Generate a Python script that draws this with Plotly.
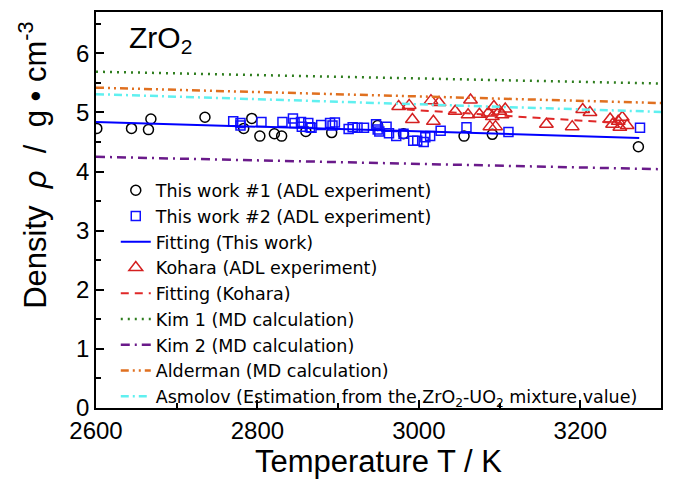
import plotly.graph_objects as go

# This work #1 (circles)
t1_T = [2601, 2644, 2665, 2668, 2735, 2783, 2793, 2803, 2821, 2830, 2860, 2892, 2949, 2981, 3056, 3091, 3272]
t1_rho = [4.73, 4.73, 4.71, 4.89, 4.92, 4.73, 4.90, 4.60, 4.64, 4.60, 4.68, 4.66, 4.78, 4.64, 4.60, 4.63, 4.42]

# This work #2 (squares)
t2_T = [2770, 2779, 2779, 2805, 2831, 2844, 2846, 2854, 2855, 2863, 2865, 2867, 2879, 2890, 2893, 2896,
        2913, 2918, 2924, 2932, 2947, 2949, 2951, 2960, 2963, 2972, 2981, 2993, 2998, 3006, 3008, 3014,
        3027, 3059, 3111, 3274]
t2_rho = [4.85, 4.82, 4.78, 4.84, 4.84, 4.90, 4.82, 4.84, 4.76, 4.82, 4.75, 4.74, 4.79, 4.82, 4.78, 4.83,
          4.72, 4.75, 4.74, 4.74, 4.80, 4.71, 4.68, 4.76, 4.65, 4.60, 4.64, 4.52, 4.52, 4.50, 4.58, 4.60,
          4.69, 4.75, 4.67, 4.74]

# Fitting (This work)
fit1_T = [2600, 3273]
fit1_rho = [4.84, 4.57]

# Kohara (triangles)
koh_T = [2975, 2988, 2992, 3015, 3025, 3018, 3045, 3061, 3064, 3075, 3086, 3091, 3093, 3100, 3107, 3088,
         3095, 3103, 3158, 3190, 3203, 3212, 3237, 3240, 3249, 3252, 3258, 3247]
koh_rho = [5.10, 5.12, 4.88, 5.20, 5.17, 4.85, 5.02, 4.96, 5.21, 4.97, 4.99, 4.93, 5.10, 5.02, 5.06, 4.76,
           4.76, 4.96, 4.80, 4.76, 5.05, 5.00, 4.89, 4.80, 4.75, 4.92, 4.78, 4.85]

# Fitting (Kohara)
fit2_T = [2985, 3250]
fit2_rho = [5.05, 4.82]

# MD / estimation lines
line_T = [2600, 3300]
kim1_rho = [5.69, 5.49]
kim2_rho = [4.25, 4.04]
alderman_rho = [5.42, 5.16]
asmolov_rho = [5.31, 5.01]

FONT = "Arial, Liberation Sans, sans-serif"
LEG_FONT = "DejaVu Sans, sans-serif"
NB = "\u00a0"

fig = go.Figure()
fig.add_trace(go.Scatter(x=t1_T, y=t1_rho, mode="markers", name="This work #1 (ADL experiment)",
                         marker=dict(symbol="circle-open", size=10, color="black", line=dict(width=1.5))))
fig.add_trace(go.Scatter(x=t2_T, y=t2_rho, mode="markers", name="This work #2 (ADL experiment)",
                         marker=dict(symbol="square-open", size=9, color="#1010ff", line=dict(width=1.5))))
fig.add_trace(go.Scatter(x=fit1_T, y=fit1_rho, mode="lines", name="Fitting (This work)",
                         line=dict(color="#0000ff", width=2)))
fig.add_trace(go.Scatter(x=koh_T, y=koh_rho, mode="markers", name="Kohara (ADL experiment)",
                         marker=dict(symbol="triangle-up-open", size=12, color="#d42020", line=dict(width=1.5))))
fig.add_trace(go.Scatter(x=fit2_T, y=fit2_rho, mode="lines", name="Fitting (Kohara)",
                         line=dict(color="#e02828", width=2, dash="8px,6px")))
fig.add_trace(go.Scatter(x=line_T, y=kim1_rho, mode="lines", name="Kim 1 (MD calculation)",
                         line=dict(color="#2e7d1e", width=2.5, dash="2px,5px")))
fig.add_trace(go.Scatter(x=line_T, y=kim2_rho, mode="lines", name="Kim 2 (MD calculation)",
                         line=dict(color="#6a1a8a", width=2.5, dash="9px,5px,2px,5px")))
fig.add_trace(go.Scatter(x=line_T, y=alderman_rho, mode="lines", name="Alderman (MD calculation)",
                         line=dict(color="#e07020", width=2.5, dash="8px,4px,2px,4px,2px,4px")))
fig.add_trace(go.Scatter(x=line_T, y=asmolov_rho, mode="lines",
                         name="Asmolov (Estimation from the ZrO<sub>2</sub>-UO<sub>2</sub> mixture value)",
                         line=dict(color="#60f0f0", width=2.5, dash="8px,4px,2px,4px")))

fig.add_annotation(x=0.055, y=0.93, xref="paper", yref="paper", xanchor="left", yanchor="middle",
                   text="ZrO<sub>2</sub>", showarrow=False, font=dict(size=30, color="black", family=FONT))

ytitle = ("Density" + NB * 2 + "<i>ρ</i>" + NB * 2 + "/" + NB * 2 + "g" + NB + "•" + NB + "cm<sup>-3</sup>")
fig.add_annotation(x=-0.111, y=0.245, xref="paper", yref="paper", xanchor="center", yanchor="bottom",
                   text=ytitle, textangle=-90, showarrow=False, font=dict(size=31, color="black", family=FONT))

fig.update_layout(
    width=673, height=485,
    margin=dict(l=96, r=10, t=10, b=77),
    plot_bgcolor="white", paper_bgcolor="white",
    font=dict(family=FONT, color="black"),
    showlegend=True,
    legend=dict(x=0.035, y=0.595, xanchor="left", yanchor="top", bgcolor="rgba(0,0,0,0)",
                font=dict(size=17.5, family=LEG_FONT), tracegroupgap=0, itemwidth=30),
    xaxis=dict(range=[2600, 3300], dtick=200, tick0=2600, showgrid=False, zeroline=False,
               showline=True, linecolor="black", linewidth=1.5, mirror=True,
               ticks="inside", ticklen=8, tickwidth=1.5, tickcolor="black",
               minor=dict(dtick=100, ticks="inside", ticklen=5, tickwidth=1.5, tickcolor="black"),
               tickfont=dict(size=24), title=dict(text="Temperature T / K", font=dict(size=31), standoff=8)),
    yaxis=dict(range=[0, 6.7], dtick=1, tick0=0, showgrid=False, zeroline=False,
               showline=True, linecolor="black", linewidth=1.5, mirror=True,
               ticks="inside", ticklen=8, tickwidth=1.5, tickcolor="black",
               minor=dict(dtick=0.5, ticks="inside", ticklen=5, tickwidth=1.5, tickcolor="black"),
               tickfont=dict(size=24)),
)

fig.write_html("out.html")
